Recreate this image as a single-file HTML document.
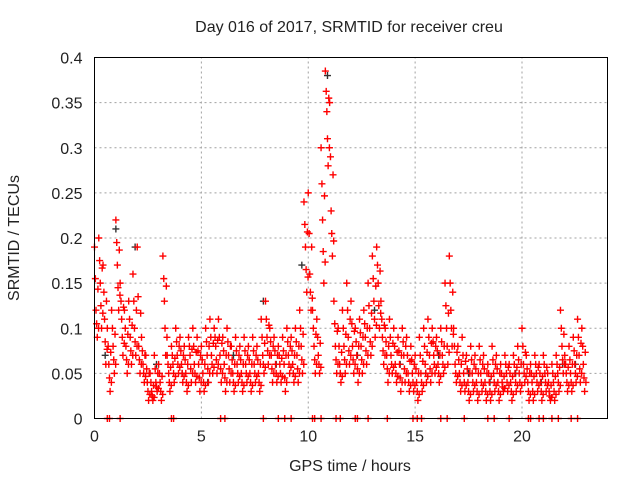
<!DOCTYPE html>
<html><head><meta charset="utf-8"><style>
body{margin:0;background:#fff;font-family:"Liberation Sans",sans-serif}
svg text{font-family:"Liberation Sans",sans-serif;font-size:16px;fill:#222}
</style></head><body>
<svg id="chart" width="640" height="480" xmlns="http://www.w3.org/2000/svg">
<text x="349" y="32" text-anchor="middle">Day 016 of 2017, SRMTID for receiver creu</text>
<text x="350" y="471" text-anchor="middle">GPS time / hours</text>
<text transform="translate(19,238) rotate(-90)" text-anchor="middle">SRMTID / TECUs</text>
<g id="grid"></g>
<g id="ticks"></g>
<g id="marks"></g>
<rect x="94.5" y="57.5" width="513" height="361" fill="none" stroke="#000" stroke-width="1"/>
</svg>
<script>
const xTicks=[0,5,10,15,20];
const yTicks=[0,0.05,0.1,0.15,0.2,0.25,0.3,0.35,0.4];
const yLabels=["0","0.05","0.1","0.15","0.2","0.25","0.3","0.35","0.4"];
const times=[0.0,0.2,0.4,0.6,0.8,1.0,1.2,1.4,1.6,1.8,2.0,2.2,2.4,2.6,2.8,3.0,3.2,3.4,3.6,3.8,4.0,4.2,4.4,4.6,4.8,5.0,5.2,5.4,5.6,5.8,6.0,6.2,6.4,6.6,6.8,7.0,7.2,7.4,7.6,7.8,8.0,8.2,8.4,8.6,8.8,9.0,9.2,9.4,9.6,9.8,10.0,10.2,10.4,10.6,10.8,11.0,11.2,11.4,11.6,11.8,12.0,12.2,12.4,12.6,12.8,13.0,13.2,13.4,13.6,13.8,14.0,14.2,14.4,14.6,14.8,15.0,15.2,15.4,15.6,15.8,16.0,16.2,16.4,16.6,16.8,17.0,17.2,17.4,17.6,17.8,18.0,18.2,18.4,18.6,18.8,19.0,19.2,19.4,19.6,19.8,20.0,20.2,20.4,20.6,20.8,21.0,21.2,21.4,21.6,21.8,22.0,22.2,22.4,22.6,22.8];
const redHigh=[.19,.20,.17,.10,.12,.22,.15,.12,.13,.16,.19,.09,.07,.05,.07,.06,.18,.07,.08,.10,.09,.08,.09,.10,.09,.08,.10,.11,.10,.11,.09,.10,.08,.09,.08,.09,.08,.09,.08,.11,.13,.10,.09,.08,.09,.10,.09,.10,.12,.24,.25,.12,.11,.30,.385,.35,.13,.10,.12,.15,.13,.10,.11,.12,.15,.18,.19,.13,.10,.11,.10,.09,.10,.09,.08,.07,.09,.10,.11,.10,.09,.10,.15,.18,.10,.08,.09,.07,.08,.07,.08,.07,.06,.08,.07,.06,.07,.06,.07,.08,.10,.07,.06,.07,.06,.07,.05,.06,.07,.12,.07,.08,.09,.11,.10];
const redMid=[.12,.15,.11,.06,.08,.17,.11,.08,.09,.10,.08,.06,.04,.03,.04,.04,.13,.05,.06,.07,.06,.05,.07,.06,.06,.05,.07,.07,.08,.07,.06,.07,.05,.06,.05,.06,.05,.06,.05,.07,.09,.07,.06,.06,.06,.07,.06,.07,.08,.19,.16,.08,.07,.22,.34,.23,.08,.06,.08,.09,.08,.07,.08,.09,.10,.13,.15,.09,.07,.07,.06,.06,.07,.05,.05,.04,.05,.06,.07,.07,.06,.07,.10,.12,.06,.05,.05,.04,.05,.04,.05,.04,.04,.05,.04,.04,.05,.04,.05,.05,.06,.04,.04,.05,.04,.05,.03,.04,.05,.08,.05,.05,.06,.07,.06];
const redLow=[.09,.10,.06,.03,.05,.12,.07,.05,.06,.07,.05,.04,.02,.02,.03,.02,.07,.03,.04,.05,.04,.03,.04,.04,.03,.03,.04,.05,.05,.04,.03,.04,.03,.04,.03,.04,.03,.04,.03,.05,.06,.04,.04,.04,.03,.05,.04,.04,.05,.14,.12,.05,.05,.15,.28,.18,.05,.04,.05,.06,.05,.04,.05,.06,.07,.09,.10,.06,.04,.05,.04,.03,.04,.03,.03,.02,.03,.04,.04,.05,.04,.05,.06,.08,.04,.03,.03,.02,.03,.02,.03,.02,.02,.03,.02,.03,.03,.02,.03,.03,.04,.02,.02,.03,.02,.03,.02,.02,.03,.05,.03,.03,.04,.04,.03];
const zeroTimes=[0.6,0.7,1.2,3.6,3.7,5.9,6.1,7.9,8.6,8.9,9.2,10.2,10.3,10.6,11.3,11.5,12.2,12.3,12.8,13.7,14.9,15.1,15.3,16.2,16.5,17.3,18.4,18.7,19.4,20.3,20.4,20.8,21.0,21.4,21.7,22.3,22.6];
const blackTimes=[0.5,1.0,1.9,2.9,4.1,5.3,6.5,7.9,8.5,9.7,10.9,11.5,12.3,13.1,14.3,15.5,16.1,17.5,18.5,19.7,20.9,21.9,22.5];
const blackValues=[.07,.21,.19,.06,.05,.04,.07,.13,.06,.17,.38,.05,.07,.12,.06,.05,.07,.05,.04,.05,.04,.06,.06];

const X0=94.5,X1=607.5,Y0=418.5,Y1=57.5;
const xs=t=>X0+(t/24)*(X1-X0);
const ys=v=>Y0-(v/0.4)*(Y0-Y1);
const NS="http://www.w3.org/2000/svg";
const grid=document.getElementById('grid'),ticks=document.getElementById('ticks'),marks=document.getElementById('marks');
function mk(tag,attrs,parent){const e=document.createElementNS(NS,tag);for(const k in attrs)e.setAttribute(k,attrs[k]);parent.appendChild(e);return e;}
xTicks.forEach((t,i)=>{
  const x=xs(t);
  if(t>0){const g=mk('line',{x1:x,x2:x,y1:Y0,y2:Y1,stroke:'#a0a0a0','stroke-dasharray':'2,3'},grid);
  
  }
  const l=mk('text',{x:x,y:Y0+23,'text-anchor':'middle'},ticks);l.textContent=String(t);
  
  
});
yTicks.forEach((v,i)=>{
  const y=ys(v);
  if(v>0){const g=mk('line',{x1:X0,x2:X1,y1:y,y2:y,stroke:'#a0a0a0','stroke-dasharray':'2,3'},grid);
  
  }
  const l=mk('text',{x:X0-12,y:y+6,'text-anchor':'end'},ticks);l.textContent=yLabels[i];
  
  
});
function cross(t,v,col){
  const x=xs(t),y=ys(v);
  const p=mk('path',{d:`M${x-3.5},${y}H${x+3.5}M${x},${y-3.5}V${y+3.5}`,stroke:col,'stroke-width':1.4,fill:'none'},marks);
  
  
}
blackTimes.forEach((t,i)=>cross(t,blackValues[i],'#333'));
times.forEach((t,i)=>{
  const h=redHigh[i],m=redMid[i],l=redLow[i];
  cross(t,h,'#ff0000');
  cross(t+0.04,(h+m)/2,'#ff0000');
  cross(t+0.07,m,'#ff0000');
  cross(t+0.1,(m+l)/2,'#ff0000');
  cross(t+0.13,l,'#ff0000');
  cross(t+0.16,(h+2*m)/3,'#ff0000');
  cross(t+0.19,(m+2*l)/3,'#ff0000');
});
zeroTimes.forEach(t=>cross(t,0,'#ff0000'));
</script>
</body></html>
